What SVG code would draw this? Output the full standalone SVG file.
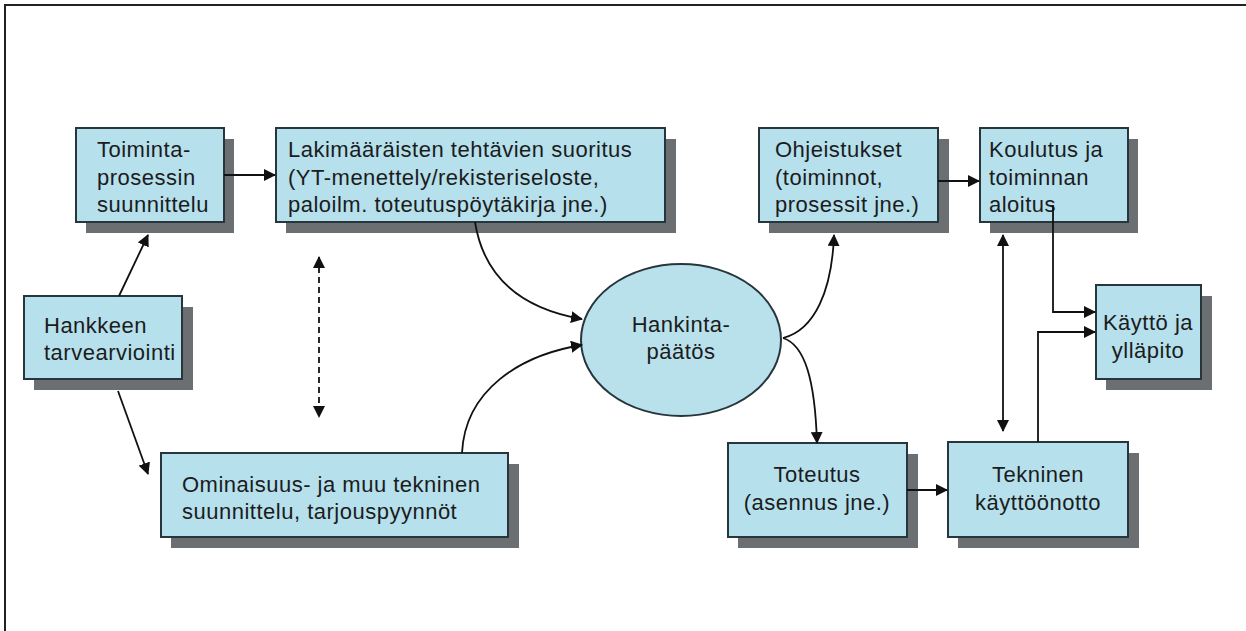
<svg xmlns="http://www.w3.org/2000/svg" width="1246" height="631" viewBox="0 0 1246 631">
<style>
.box{fill:#b5e0ec;stroke:#27363c;stroke-width:2}
.sh{fill:#6b6f71}
.t{font-family:"Liberation Sans",Arial,sans-serif;font-size:22px;letter-spacing:0.5px;fill:#1c1c1c}
.c{text-anchor:middle}
.ln{fill:none;stroke:#111;stroke-width:1.8}
</style>
<defs>
<marker id="ah" viewBox="0 0 12 12" refX="11" refY="6" markerWidth="12" markerHeight="12" markerUnits="userSpaceOnUse" orient="auto-start-reverse">
<path d="M0,0 L12,6 L0,12 Z" fill="#111"/>
</marker>
</defs>
<rect width="1246" height="631" fill="#fff"/>
<path d="M5,631 V5 H1246" fill="none" stroke="#222" stroke-width="2"/>

<g id="n-toiminta">
<rect class="sh" x="86" y="139" width="148" height="94"/>
<rect class="box" x="76" y="128" width="148" height="94"/>
<text class="t" x="97" y="157">Toiminta-</text>
<text class="t" x="97" y="185">prosessin</text>
<text class="t" x="97" y="212">suunnittelu</text>
</g>
<g id="n-laki">
<rect class="sh" x="286" y="139" width="390" height="94"/>
<rect class="box" x="276" y="128" width="389" height="94"/>
<text class="t" x="288" y="157">Lakimääräisten tehtävien suoritus</text>
<text class="t" x="288" y="185">(YT-menettely/rekisteriseloste,</text>
<text class="t" x="288" y="212">paloilm. toteutuspöytäkirja jne.)</text>
</g>
<g id="n-hankkeen">
<rect class="sh" x="34" y="307" width="159" height="83"/>
<rect class="box" x="24" y="296" width="158" height="83"/>
<text class="t" x="44" y="333">Hankkeen</text>
<text class="t" x="44" y="360">tarvearviointi</text>
</g>
<g id="n-ominaisuus">
<rect class="sh" x="171" y="464" width="348" height="84"/>
<rect class="box" x="161" y="453" width="347" height="84"/>
<text class="t" x="182" y="492">Ominaisuus- ja muu tekninen</text>
<text class="t" x="182" y="519">suunnittelu, tarjouspyynnöt</text>
</g>
<g id="n-hankinta">
<ellipse cx="681" cy="340" rx="100" ry="76" fill="#b9e1ec" stroke="#27363c" stroke-width="2"/>
<text class="t c" x="681" y="332">Hankinta-</text>
<text class="t c" x="681" y="359">päätös</text>
</g>
<g id="n-ohjeistukset">
<rect class="sh" x="769" y="139" width="180" height="94"/>
<rect class="box" x="759" y="128" width="179" height="94"/>
<text class="t" x="775" y="157">Ohjeistukset</text>
<text class="t" x="775" y="185">(toiminnot,</text>
<text class="t" x="775" y="212">prosessit jne.)</text>
</g>
<g id="n-koulutus">
<rect class="sh" x="990" y="139" width="148" height="94"/>
<rect class="box" x="980" y="128" width="148" height="94"/>
<text class="t" x="989" y="157">Koulutus ja</text>
<text class="t" x="989" y="185">toiminnan</text>
<text class="t" x="989" y="212">aloitus</text>
</g>
<g id="n-kaytto">
<rect class="sh" x="1106" y="296" width="106" height="94"/>
<rect class="box" x="1096" y="285" width="105" height="94"/>
<text class="t c" x="1148" y="330">Käyttö ja</text>
<text class="t c" x="1148" y="358">ylläpito</text>
</g>
<g id="n-toteutus">
<rect class="sh" x="738" y="454" width="180" height="94"/>
<rect class="box" x="728" y="443" width="179" height="94"/>
<text class="t c" x="817" y="482">Toteutus</text>
<text class="t c" x="817" y="510">(asennus jne.)</text>
</g>
<g id="n-tekninen">
<rect class="sh" x="958" y="453" width="181" height="95"/>
<rect class="box" x="948" y="442" width="180" height="95"/>
<text class="t c" x="1038" y="482">Tekninen</text>
<text class="t c" x="1038" y="510">käyttöönotto</text>
</g>

<g id="connectors">
<path class="ln" d="M224,175 H275" marker-end="url(#ah)"/>
<path class="ln" d="M119,296 L148,235" marker-end="url(#ah)"/>
<path class="ln" d="M118,391 L148,474" marker-end="url(#ah)"/>
<path class="ln" d="M319,257 V417" stroke-dasharray="6,4" marker-start="url(#ah)" marker-end="url(#ah)"/>
<path class="ln" d="M475,222 C485,285 530,310 582,319" marker-end="url(#ah)"/>
<path class="ln" d="M462,453 C465,390 520,355 582,345" marker-end="url(#ah)"/>
<path class="ln" d="M783,338 C815,330 832,290 834,235" marker-end="url(#ah)"/>
<path class="ln" d="M783,338 C805,345 815,380 817,443" marker-end="url(#ah)"/>
<path class="ln" d="M938,181 H979" marker-end="url(#ah)"/>
<path class="ln" d="M907,490 H947" marker-end="url(#ah)"/>
<path class="ln" d="M1003,235 V431" marker-start="url(#ah)" marker-end="url(#ah)"/>
<path class="ln" d="M1053,205 V312 H1095" marker-end="url(#ah)"/>
<path class="ln" d="M1038,442 V332 H1095" marker-end="url(#ah)"/>
</g>
</svg>
